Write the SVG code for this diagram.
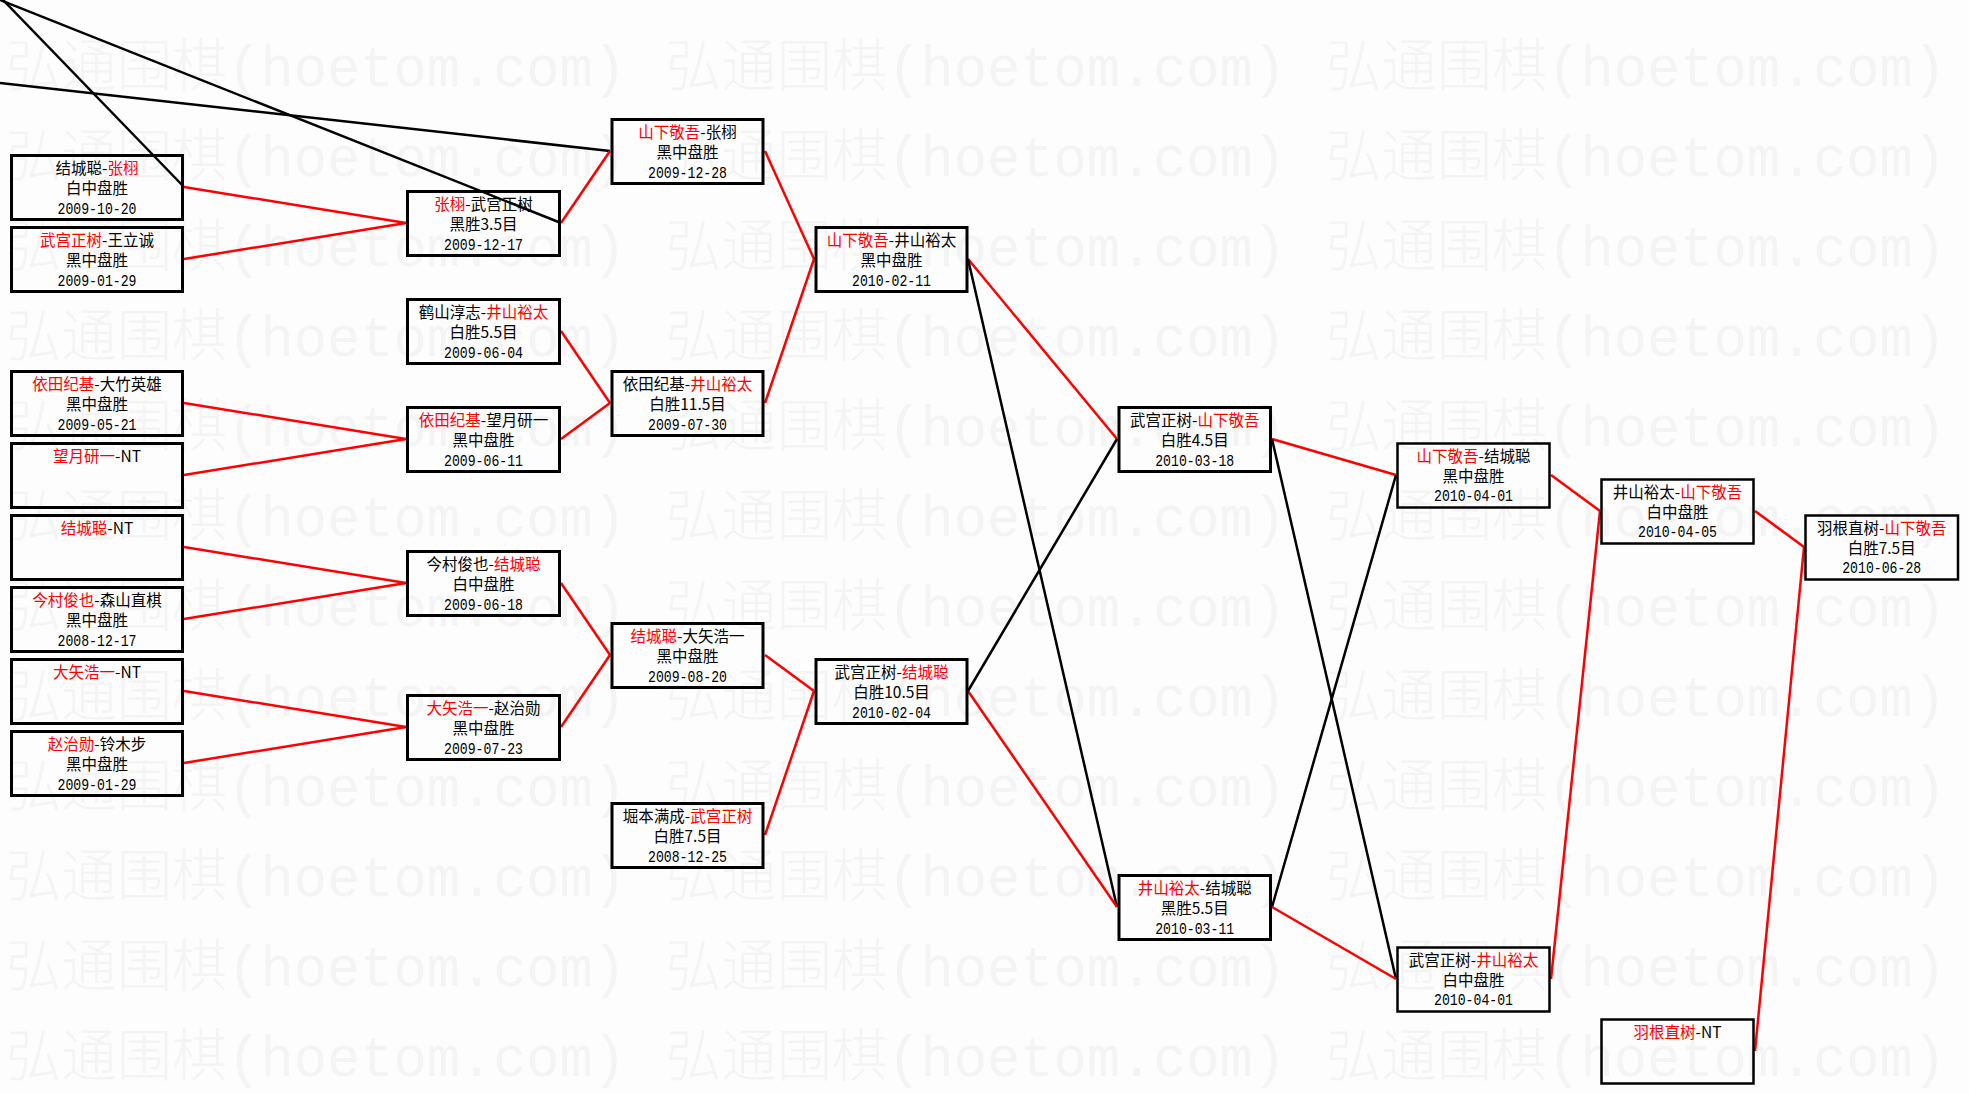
<svg xmlns="http://www.w3.org/2000/svg" width="1969" height="1093" viewBox="0 0 1969 1093">
<style>
.bg{fill:#fdfdfd}
.wm{font-family:"Liberation Mono","Noto Sans CJK SC",monospace;font-size:57px;font-weight:300;fill:#f4f4f4}
.box{fill:none;stroke:#000;stroke-width:3}
.thin{stroke-width:2.5}
.t{font-family:"Noto Sans CJK SC",sans-serif;font-size:15.5px;text-anchor:middle;fill:#000}
.d{font-family:"Liberation Mono","Noto Sans CJK SC",monospace;font-size:17px;text-anchor:middle;fill:#000}
.r{fill:#f00}
.lr{stroke:#f00;stroke-width:2.5;fill:none}
.lb{stroke:#000;stroke-width:2.5;fill:none}
</style>
<rect class="bg" x="0" y="0" width="1969" height="1093"/>
<g id="watermark">
<text class="wm" x="6" y="86" textLength="620" lengthAdjust="spacingAndGlyphs">弘通围棋(hoetom.com)</text><text class="wm" x="666" y="86" textLength="620" lengthAdjust="spacingAndGlyphs">弘通围棋(hoetom.com)</text><text class="wm" x="1326" y="86" textLength="620" lengthAdjust="spacingAndGlyphs">弘通围棋(hoetom.com)</text>
<text class="wm" x="6" y="176" textLength="620" lengthAdjust="spacingAndGlyphs">弘通围棋(hoetom.com)</text><text class="wm" x="666" y="176" textLength="620" lengthAdjust="spacingAndGlyphs">弘通围棋(hoetom.com)</text><text class="wm" x="1326" y="176" textLength="620" lengthAdjust="spacingAndGlyphs">弘通围棋(hoetom.com)</text>
<text class="wm" x="6" y="266" textLength="620" lengthAdjust="spacingAndGlyphs">弘通围棋(hoetom.com)</text><text class="wm" x="666" y="266" textLength="620" lengthAdjust="spacingAndGlyphs">弘通围棋(hoetom.com)</text><text class="wm" x="1326" y="266" textLength="620" lengthAdjust="spacingAndGlyphs">弘通围棋(hoetom.com)</text>
<text class="wm" x="6" y="356" textLength="620" lengthAdjust="spacingAndGlyphs">弘通围棋(hoetom.com)</text><text class="wm" x="666" y="356" textLength="620" lengthAdjust="spacingAndGlyphs">弘通围棋(hoetom.com)</text><text class="wm" x="1326" y="356" textLength="620" lengthAdjust="spacingAndGlyphs">弘通围棋(hoetom.com)</text>
<text class="wm" x="6" y="446" textLength="620" lengthAdjust="spacingAndGlyphs">弘通围棋(hoetom.com)</text><text class="wm" x="666" y="446" textLength="620" lengthAdjust="spacingAndGlyphs">弘通围棋(hoetom.com)</text><text class="wm" x="1326" y="446" textLength="620" lengthAdjust="spacingAndGlyphs">弘通围棋(hoetom.com)</text>
<text class="wm" x="6" y="536" textLength="620" lengthAdjust="spacingAndGlyphs">弘通围棋(hoetom.com)</text><text class="wm" x="666" y="536" textLength="620" lengthAdjust="spacingAndGlyphs">弘通围棋(hoetom.com)</text><text class="wm" x="1326" y="536" textLength="620" lengthAdjust="spacingAndGlyphs">弘通围棋(hoetom.com)</text>
<text class="wm" x="6" y="626" textLength="620" lengthAdjust="spacingAndGlyphs">弘通围棋(hoetom.com)</text><text class="wm" x="666" y="626" textLength="620" lengthAdjust="spacingAndGlyphs">弘通围棋(hoetom.com)</text><text class="wm" x="1326" y="626" textLength="620" lengthAdjust="spacingAndGlyphs">弘通围棋(hoetom.com)</text>
<text class="wm" x="6" y="716" textLength="620" lengthAdjust="spacingAndGlyphs">弘通围棋(hoetom.com)</text><text class="wm" x="666" y="716" textLength="620" lengthAdjust="spacingAndGlyphs">弘通围棋(hoetom.com)</text><text class="wm" x="1326" y="716" textLength="620" lengthAdjust="spacingAndGlyphs">弘通围棋(hoetom.com)</text>
<text class="wm" x="6" y="806" textLength="620" lengthAdjust="spacingAndGlyphs">弘通围棋(hoetom.com)</text><text class="wm" x="666" y="806" textLength="620" lengthAdjust="spacingAndGlyphs">弘通围棋(hoetom.com)</text><text class="wm" x="1326" y="806" textLength="620" lengthAdjust="spacingAndGlyphs">弘通围棋(hoetom.com)</text>
<text class="wm" x="6" y="896" textLength="620" lengthAdjust="spacingAndGlyphs">弘通围棋(hoetom.com)</text><text class="wm" x="666" y="896" textLength="620" lengthAdjust="spacingAndGlyphs">弘通围棋(hoetom.com)</text><text class="wm" x="1326" y="896" textLength="620" lengthAdjust="spacingAndGlyphs">弘通围棋(hoetom.com)</text>
<text class="wm" x="6" y="986" textLength="620" lengthAdjust="spacingAndGlyphs">弘通围棋(hoetom.com)</text><text class="wm" x="666" y="986" textLength="620" lengthAdjust="spacingAndGlyphs">弘通围棋(hoetom.com)</text><text class="wm" x="1326" y="986" textLength="620" lengthAdjust="spacingAndGlyphs">弘通围棋(hoetom.com)</text>
<text class="wm" x="6" y="1076" textLength="620" lengthAdjust="spacingAndGlyphs">弘通围棋(hoetom.com)</text><text class="wm" x="666" y="1076" textLength="620" lengthAdjust="spacingAndGlyphs">弘通围棋(hoetom.com)</text><text class="wm" x="1326" y="1076" textLength="620" lengthAdjust="spacingAndGlyphs">弘通围棋(hoetom.com)</text>
</g>
<g id="connectors">
<line class="lb" x1="3" y1="0" x2="184" y2="187"/>
<line class="lb" x1="0" y1="0" x2="561" y2="223"/>
<line class="lb" x1="0" y1="83" x2="610" y2="151"/>
<line class="lr" x1="184" y1="187" x2="406" y2="223"/>
<line class="lr" x1="184" y1="259" x2="406" y2="223"/>
<line class="lr" x1="561" y1="223" x2="610" y2="151"/>
<line class="lr" x1="561" y1="331" x2="610" y2="403"/>
<line class="lr" x1="184" y1="403" x2="406" y2="439"/>
<line class="lr" x1="184" y1="475" x2="406" y2="439"/>
<line class="lr" x1="561" y1="439" x2="610" y2="403"/>
<line class="lr" x1="184" y1="547" x2="406" y2="583"/>
<line class="lr" x1="184" y1="619" x2="406" y2="583"/>
<line class="lr" x1="184" y1="691" x2="406" y2="727"/>
<line class="lr" x1="184" y1="763" x2="406" y2="727"/>
<line class="lr" x1="561" y1="583" x2="610" y2="655"/>
<line class="lr" x1="561" y1="727" x2="610" y2="655"/>
<line class="lr" x1="765" y1="151" x2="814" y2="259"/>
<line class="lr" x1="765" y1="403" x2="814" y2="259"/>
<line class="lr" x1="765" y1="655" x2="814" y2="691"/>
<line class="lr" x1="765" y1="835" x2="814" y2="691"/>
<line class="lr" x1="968" y1="259" x2="1117" y2="439"/>
<line class="lb" x1="968" y1="259" x2="1117" y2="907"/>
<line class="lb" x1="968" y1="691" x2="1117" y2="439"/>
<line class="lr" x1="968" y1="691" x2="1117" y2="907"/>
<line class="lr" x1="1272" y1="439" x2="1396" y2="475"/>
<line class="lb" x1="1272" y1="439" x2="1396" y2="979"/>
<line class="lb" x1="1272" y1="907" x2="1396" y2="475"/>
<line class="lr" x1="1272" y1="907" x2="1396" y2="979"/>
<line class="lr" x1="1551" y1="475" x2="1600" y2="511"/>
<line class="lr" x1="1551" y1="979" x2="1600" y2="511"/>
<line class="lr" x1="1755" y1="511" x2="1804" y2="547"/>
<line class="lr" x1="1755" y1="1051" x2="1804" y2="547"/>
</g>
<g id="n-c1-1"><rect class="box" x="11.5" y="155.5" width="171" height="64"/><text class="t" x="97" y="173.5">结城聪-<tspan class="r">张栩</tspan></text><text class="t" x="97" y="194">白中盘胜</text><text class="d" x="97" y="214" textLength="79" lengthAdjust="spacingAndGlyphs">2009-10-20</text></g>
<g id="n-c1-2"><rect class="box" x="11.5" y="227.5" width="171" height="64"/><text class="t" x="97" y="245.5"><tspan class="r">武宫正树</tspan>-王立诚</text><text class="t" x="97" y="266">黑中盘胜</text><text class="d" x="97" y="286" textLength="79" lengthAdjust="spacingAndGlyphs">2009-01-29</text></g>
<g id="n-c1-3"><rect class="box" x="11.5" y="371.5" width="171" height="64"/><text class="t" x="97" y="389.5"><tspan class="r">依田纪基</tspan>-大竹英雄</text><text class="t" x="97" y="410">黑中盘胜</text><text class="d" x="97" y="430" textLength="79" lengthAdjust="spacingAndGlyphs">2009-05-21</text></g>
<g id="n-c1-4"><rect class="box" x="11.5" y="443.5" width="171" height="64"/><text class="t" x="97" y="461.5"><tspan class="r">望月研一</tspan>-NT</text></g>
<g id="n-c1-5"><rect class="box" x="11.5" y="515.5" width="171" height="64"/><text class="t" x="97" y="533.5"><tspan class="r">结城聪</tspan>-NT</text></g>
<g id="n-c1-6"><rect class="box" x="11.5" y="587.5" width="171" height="64"/><text class="t" x="97" y="605.5"><tspan class="r">今村俊也</tspan>-森山直棋</text><text class="t" x="97" y="626">黑中盘胜</text><text class="d" x="97" y="646" textLength="79" lengthAdjust="spacingAndGlyphs">2008-12-17</text></g>
<g id="n-c1-7"><rect class="box" x="11.5" y="659.5" width="171" height="64"/><text class="t" x="97" y="677.5"><tspan class="r">大矢浩一</tspan>-NT</text></g>
<g id="n-c1-8"><rect class="box" x="11.5" y="731.5" width="171" height="64"/><text class="t" x="97" y="749.5"><tspan class="r">赵治勋</tspan>-铃木步</text><text class="t" x="97" y="770">黑中盘胜</text><text class="d" x="97" y="790" textLength="79" lengthAdjust="spacingAndGlyphs">2009-01-29</text></g>
<g id="n-c2-1"><rect class="box" x="407.5" y="191.5" width="152" height="64"/><text class="t" x="483.5" y="209.5"><tspan class="r">张栩</tspan>-武宫正树</text><text class="t" x="483.5" y="230">黑胜3.5目</text><text class="d" x="483.5" y="250" textLength="79" lengthAdjust="spacingAndGlyphs">2009-12-17</text></g>
<g id="n-c2-2"><rect class="box" x="407.5" y="299.5" width="152" height="64"/><text class="t" x="483.5" y="317.5">鹤山淳志-<tspan class="r">井山裕太</tspan></text><text class="t" x="483.5" y="338">白胜5.5目</text><text class="d" x="483.5" y="358" textLength="79" lengthAdjust="spacingAndGlyphs">2009-06-04</text></g>
<g id="n-c2-3"><rect class="box" x="407.5" y="407.5" width="152" height="64"/><text class="t" x="483.5" y="425.5"><tspan class="r">依田纪基</tspan>-望月研一</text><text class="t" x="483.5" y="446">黑中盘胜</text><text class="d" x="483.5" y="466" textLength="79" lengthAdjust="spacingAndGlyphs">2009-06-11</text></g>
<g id="n-c2-4"><rect class="box" x="407.5" y="551.5" width="152" height="64"/><text class="t" x="483.5" y="569.5">今村俊也-<tspan class="r">结城聪</tspan></text><text class="t" x="483.5" y="590">白中盘胜</text><text class="d" x="483.5" y="610" textLength="79" lengthAdjust="spacingAndGlyphs">2009-06-18</text></g>
<g id="n-c2-5"><rect class="box" x="407.5" y="695.5" width="152" height="64"/><text class="t" x="483.5" y="713.5"><tspan class="r">大矢浩一</tspan>-赵治勋</text><text class="t" x="483.5" y="734">黑中盘胜</text><text class="d" x="483.5" y="754" textLength="79" lengthAdjust="spacingAndGlyphs">2009-07-23</text></g>
<g id="n-c3-1"><rect class="box" x="612" y="119.5" width="151" height="64"/><text class="t" x="687.5" y="137.5"><tspan class="r">山下敬吾</tspan>-张栩</text><text class="t" x="687.5" y="158">黑中盘胜</text><text class="d" x="687.5" y="178" textLength="79" lengthAdjust="spacingAndGlyphs">2009-12-28</text></g>
<g id="n-c3-2"><rect class="box" x="612" y="371.5" width="151" height="64"/><text class="t" x="687.5" y="389.5">依田纪基-<tspan class="r">井山裕太</tspan></text><text class="t" x="687.5" y="410">白胜11.5目</text><text class="d" x="687.5" y="430" textLength="79" lengthAdjust="spacingAndGlyphs">2009-07-30</text></g>
<g id="n-c3-3"><rect class="box" x="612" y="623.5" width="151" height="64"/><text class="t" x="687.5" y="641.5"><tspan class="r">结城聪</tspan>-大矢浩一</text><text class="t" x="687.5" y="662">黑中盘胜</text><text class="d" x="687.5" y="682" textLength="79" lengthAdjust="spacingAndGlyphs">2009-08-20</text></g>
<g id="n-c3-4"><rect class="box" x="612" y="803.5" width="151" height="64"/><text class="t" x="687.5" y="821.5">堀本满成-<tspan class="r">武宫正树</tspan></text><text class="t" x="687.5" y="842">白胜7.5目</text><text class="d" x="687.5" y="862" textLength="79" lengthAdjust="spacingAndGlyphs">2008-12-25</text></g>
<g id="n-c4-1"><rect class="box" x="816" y="227.5" width="151" height="64"/><text class="t" x="891.5" y="245.5"><tspan class="r">山下敬吾</tspan>-井山裕太</text><text class="t" x="891.5" y="266">黑中盘胜</text><text class="d" x="891.5" y="286" textLength="79" lengthAdjust="spacingAndGlyphs">2010-02-11</text></g>
<g id="n-c4-2"><rect class="box" x="816" y="659.5" width="151" height="64"/><text class="t" x="891.5" y="677.5">武宫正树-<tspan class="r">结城聪</tspan></text><text class="t" x="891.5" y="698">白胜10.5目</text><text class="d" x="891.5" y="718" textLength="79" lengthAdjust="spacingAndGlyphs">2010-02-04</text></g>
<g id="n-c5-1"><rect class="box" x="1119" y="407.5" width="151.5" height="64"/><text class="t" x="1194.7" y="425.5">武宫正树-<tspan class="r">山下敬吾</tspan></text><text class="t" x="1194.7" y="446">白胜4.5目</text><text class="d" x="1194.7" y="466" textLength="79" lengthAdjust="spacingAndGlyphs">2010-03-18</text></g>
<g id="n-c5-2"><rect class="box" x="1119" y="875.5" width="151.5" height="64"/><text class="t" x="1194.7" y="893.5"><tspan class="r">井山裕太</tspan>-结城聪</text><text class="t" x="1194.7" y="914">黑胜5.5目</text><text class="d" x="1194.7" y="934" textLength="79" lengthAdjust="spacingAndGlyphs">2010-03-11</text></g>
<g id="n-c6-1"><rect class="box thin" x="1397.5" y="443.5" width="152" height="64"/><text class="t" x="1473.5" y="461.5"><tspan class="r">山下敬吾</tspan>-结城聪</text><text class="t" x="1473.5" y="482">黑中盘胜</text><text class="d" x="1473.5" y="501" textLength="79" lengthAdjust="spacingAndGlyphs">2010-04-01</text></g>
<g id="n-c6-2"><rect class="box thin" x="1397.5" y="947.5" width="152" height="64"/><text class="t" x="1473.5" y="965.5">武宫正树-<tspan class="r">井山裕太</tspan></text><text class="t" x="1473.5" y="986">白中盘胜</text><text class="d" x="1473.5" y="1005" textLength="79" lengthAdjust="spacingAndGlyphs">2010-04-01</text></g>
<g id="n-c7-1"><rect class="box thin" x="1601.5" y="479.5" width="152" height="64"/><text class="t" x="1677.5" y="497.5">井山裕太-<tspan class="r">山下敬吾</tspan></text><text class="t" x="1677.5" y="518">白中盘胜</text><text class="d" x="1677.5" y="537" textLength="79" lengthAdjust="spacingAndGlyphs">2010-04-05</text></g>
<g id="n-c7-2"><rect class="box thin" x="1601.5" y="1019.5" width="152" height="64"/><text class="t" x="1677.5" y="1037.5"><tspan class="r">羽根直树</tspan>-NT</text></g>
<g id="n-c8-1"><rect class="box thin" x="1805.5" y="515.5" width="152.5" height="64"/><text class="t" x="1881.7" y="533.5">羽根直树-<tspan class="r">山下敬吾</tspan></text><text class="t" x="1881.7" y="554">白胜7.5目</text><text class="d" x="1881.7" y="573" textLength="79" lengthAdjust="spacingAndGlyphs">2010-06-28</text></g>
</svg>
